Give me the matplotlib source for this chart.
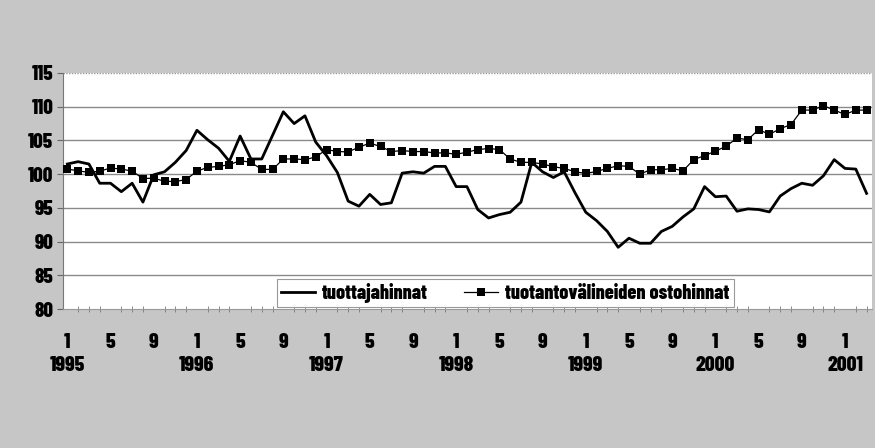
import matplotlib
matplotlib.use("Agg")
import matplotlib.pyplot as plt
from matplotlib.ticker import MultipleLocator

# Monthly index values, Jan 1995 - Mar 2001
tuottajahinnat = [
    101.5, 101.85, 101.5, 98.65, 98.65, 97.4, 98.65, 95.85, 99.9, 100.35, 101.75, 103.5,
    106.5, 105.1, 103.85, 101.9, 105.65, 102.25, 102.25, 105.75, 109.25, 107.5, 108.65, 104.75,
    102.75, 100.25, 96.0, 95.25, 97.0, 95.5, 95.75, 100.15, 100.35, 100.15, 101.15, 101.15,
    98.15, 98.15, 94.75, 93.5, 94.0, 94.35, 95.85, 101.75, 100.35, 99.5, 100.35, 97.25,
    94.35, 93.1, 91.5, 89.15, 90.5, 89.75, 89.75, 91.5, 92.25, 93.65, 94.85, 98.15,
    96.65, 96.75, 94.5, 94.85, 94.75, 94.4, 96.75, 97.85, 98.65, 98.35, 99.75, 102.15,
    100.85, 100.75, 97.15,
]
ostohinnat = [
    100.75, 100.5, 100.25, 100.45, 100.9, 100.75, 100.45, 99.35, 99.4, 98.95, 98.9, 99.2,
    100.45, 101.0, 101.15, 101.4, 102.0, 101.75, 100.7, 100.7, 102.25, 102.25, 102.15, 102.55,
    103.65, 103.35, 103.3, 104.0, 104.6, 104.1, 103.35, 103.5, 103.35, 103.35, 103.15, 103.15,
    102.95, 103.25, 103.65, 103.8, 103.65, 102.25, 101.75, 101.75, 101.5, 101.1, 100.85, 100.35,
    100.1, 100.4, 100.85, 101.25, 101.15, 100.0, 100.65, 100.65, 100.85, 100.5, 102.15, 102.75,
    103.4, 104.15, 105.35, 105.1, 106.6, 105.9, 106.75, 107.35, 109.5, 109.5, 110.15, 109.5,
    108.85, 109.5, 109.5,
]
series_names = ["tuottajahinnat", "tuotantovälineiden ostohinnat"]
month_labels = ["1", "5", "9"]
years = ["1995", "1996", "1997", "1998", "1999", "2000", "2001"]
y_ticks = [80, 85, 90, 95, 100, 105, 110, 115]

FONT = ["Barlow Condensed", "DejaVu Sans"]
W = 800
plt.rcParams["font.family"] = FONT
plt.rcParams["font.weight"] = W

bg = "#c6c6c6"
fig = plt.figure(figsize=(8.75, 4.48), dpi=100, facecolor=bg)
ax = fig.add_axes([63 / 875, 1 - 309 / 448, (872 - 63) / 875, (309 - 73) / 448])
ax.set_facecolor("white")

x = list(range(len(tuottajahinnat)))
l1, = ax.plot(x, tuottajahinnat, color="black", lw=2.0, zorder=3)
l2, = ax.plot(x, ostohinnat, color="black", lw=0.9, marker="s", ms=5.8,
              markeredgewidth=0, zorder=4)

ax.set_ylim(80, 115)
ax.set_xlim(-0.4, 74.5)
ax.set_yticks(y_ticks)
ax.set_yticklabels([str(v) for v in y_ticks], fontsize=15, fontweight=W)
for v in y_ticks[1:-1]:
    ax.axhline(v, color="#8a8a8a", lw=1.0, zorder=1)
ax.axhline(115, color="#999999", lw=1.0, ls=(0, (1, 1)), zorder=1)

# x ticks: months 1,5,9 of each year; years under month 1
tick_pos = []
tick_lab = []
for yi in range(len(years)):
    for mi, m in enumerate(month_labels):
        p = yi * 12 + mi * 4
        if p < len(x):
            tick_pos.append(p)
            tick_lab.append(m + ("\n" + years[yi] if mi == 0 else ""))
ax.set_xticks(tick_pos)
ax.set_xticklabels(tick_lab, fontsize=15.5, fontweight=W)
for t in ax.get_xticklabels():
    t.set_linespacing(1.32)
ax.xaxis.set_minor_locator(MultipleLocator(1))
ax.tick_params(axis="x", which="major", length=0, pad=17)
ax.tick_params(axis="x", which="minor", length=4, direction="inout", color="#777777")
ax.tick_params(axis="y", length=4, color="#666666", pad=3)

for s in ["top", "right"]:
    ax.spines[s].set_visible(False)
ax.spines["left"].set_color("#777777")
ax.spines["bottom"].set_color("#999999")
ax.spines["bottom"].set_linestyle((0, (1, 1)))

leg = ax.legend([l1, l2], series_names, ncol=2, loc="lower left",
                bbox_to_anchor=(0.2645, 0.01, 0.5645, 0.125), mode="expand",
                frameon=True, fancybox=False, framealpha=1, edgecolor="#999999",
                prop={"family": FONT, "weight": W, "size": 14.5},
                handlelength=1.7, handletextpad=0.35, columnspacing=2.0,
                borderpad=0.2, borderaxespad=0)
leg.get_frame().set_linewidth(0.8)
leg.set_zorder(5)

fig.savefig("out.png", dpi=100, facecolor=bg)
